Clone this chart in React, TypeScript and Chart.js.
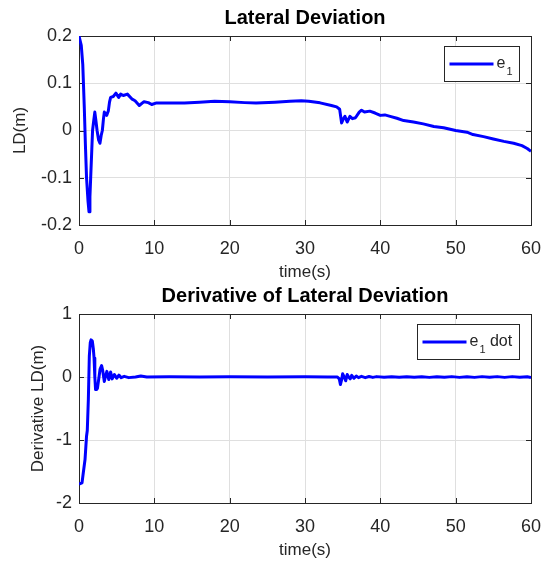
import React, { useEffect, useRef } from 'react';
import { Chart, registerables } from 'chart.js';

Chart.register(...registerables);

const FONT = '"Liberation Sans", Arial, Helvetica, sans-serif';
const INK = '#262626';
const GRID = '#dfdfdf';
const LINE = '#0000ff';

// ---- shared x axis ----
const xTicks = [0, 10, 20, 30, 40, 50, 60];
const xLabel = 'time(s)';

// ---- top panel ----
const topTitle = 'Lateral Deviation';
const topYLabel = 'LD(m)';
const topLegend = 'e_1';
const topYTicks = [-0.2, -0.1, 0, 0.1, 0.2];
const topTime = [
  0, 0.1, 0.3, 0.5, 0.7, 0.85, 1.0, 1.2, 1.33, 1.45, 1.55, 1.7, 1.8, 1.95, 2.1, 2.25, 2.4, 2.6, 2.78, 2.95,
  3.1, 3.25, 3.36, 3.5, 3.67, 3.9, 4.05, 4.2, 4.55, 4.9, 5.27, 5.53, 5.88, 6.42, 7.0, 7.44, 8.0, 8.63, 9.2, 9.65,
  10.2, 12, 14, 16, 18, 20, 22, 23.5, 26, 28, 29.5, 30.5, 32, 33.5, 34.2, 34.6, 34.86, 35.1, 35.3, 35.6,
  35.96, 36.3, 36.7, 37.2, 37.5, 37.9, 38.6, 39.3, 40, 40.6, 41.3, 42.2, 43.1, 44.4, 45.7, 47.1, 48.4, 50, 51.5, 52.3,
  53.7, 55, 56.4, 57.7, 58.8, 59.5, 60,
];
const topValue = [
  0.2, 0.2, 0.18, 0.14, 0.05, -0.03, -0.1, -0.15, -0.172, -0.14, -0.1, -0.04, 0, 0.02, 0.039, 0.02, 0, -0.02, -0.027, -0.01,
  0, 0.025, 0.039, 0.036, 0.032, 0.042, 0.06, 0.07, 0.072, 0.079, 0.07, 0.077, 0.074, 0.077, 0.067, 0.063, 0.053, 0.061, 0.059, 0.055,
  0.058, 0.058, 0.058, 0.06, 0.062, 0.061, 0.059, 0.058, 0.06, 0.062, 0.063, 0.062, 0.0585, 0.053, 0.05, 0.045, 0.016, 0.025, 0.03, 0.018,
  0.03, 0.025, 0.027, 0.039, 0.043, 0.039, 0.041, 0.037, 0.032, 0.033, 0.03, 0.026, 0.021, 0.018, 0.014, 0.0086, 0.0057, 0, -0.0036, -0.0086,
  -0.013, -0.018, -0.023, -0.027, -0.032, -0.038, -0.044,
];

// ---- bottom panel ----
const bottomTitle = 'Derivative of Lateral Deviation';
const bottomYLabel = 'Derivative LD(m)';
const bottomLegend = 'e_1 dot';
const bottomYTicks = [-2, -1, 0, 1];
const bottomTime = [
  0, 0.4, 0.57, 0.8, 1.0, 1.1, 1.24, 1.37, 1.5, 1.6, 1.77, 1.9, 2.0, 2.1, 2.2, 2.35, 2.45, 2.6, 2.79, 3.0,
  3.15, 3.36, 3.5, 3.7, 3.95, 4.2, 4.4, 4.7, 5.0, 5.3, 5.6, 6.0, 6.6, 7.5, 8.2, 9.0, 12, 16, 20, 25,
  30, 33, 34.3, 34.55, 34.7, 34.85, 35.0, 35.2, 35.4, 35.6, 35.8, 36.0, 36.2, 36.5, 36.8, 37.1, 37.5, 38.0, 38.5, 39.0,
  39.5, 40.5, 41.5, 42.5, 43.5, 44.5, 45.5, 46.5, 47.5, 48.5, 49.5, 50.5, 51.5, 52.5, 53.5, 54.5, 55.5, 56.5, 57.5, 58.5,
  59.5, 60,
];
const bottomValue = [
  -1.7, -1.68, -1.52, -1.31, -0.94, -0.85, -0.36, 0.33, 0.55, 0.59, 0.57, 0.45, 0.3, 0.0, -0.2, -0.2, -0.18, -0.05, 0.12, 0.18,
  0.1, -0.07, 0.0, 0.09, -0.04, 0.08, -0.03, 0.04, -0.02, 0.03, -0.01, 0.01, -0.01, 0.0, 0.015, 0.0, 0.003, 0.0, 0.002, 0.0,
  0.002, 0.0, 0.0, -0.03, -0.12, -0.05, 0.05, 0.0, -0.06, 0.04, 0.0, -0.03, 0.025, -0.02, 0.015, -0.01, 0.01, -0.01, 0.008, -0.006,
  0.006, -0.005, 0.005, -0.004, 0.004, -0.005, 0.004, -0.006, 0.005, -0.005, 0.006, -0.006, 0.005, -0.006, 0.006, -0.005, 0.006, -0.006, 0.006, -0.005,
  0.004, -0.01,
];

type PanelSpec = {
  top: number;
  height: number;
  padTop: number;
  xHeight: number;
  yTitlePad: number;
  xTitlePad: number;
  title: string;
  yLabel: string;
  legend: string;
  yTicks: number[];
  time: number[];
  values: number[];
};

const fmt = (v: number) => String(Math.round(v * 10) / 10);

const framePlugin = {
  id: 'matlabFrame',
  beforeDatasetsDraw(chart: any) {
    const { ctx, chartArea: a, scales } = chart;
    ctx.save();
    ctx.strokeStyle = INK;
    ctx.lineWidth = 1;
    const L = 5;
    ctx.beginPath();
    for (const t of scales.x.ticks) {
      const px = Math.round(scales.x.getPixelForValue(t.value)) + 0.5;
      ctx.moveTo(px, a.bottom);
      ctx.lineTo(px, a.bottom - L);
      ctx.moveTo(px, a.top);
      ctx.lineTo(px, a.top + L);
    }
    for (const t of scales.y.ticks) {
      const py = Math.round(scales.y.getPixelForValue(t.value)) + 0.5;
      ctx.moveTo(a.left, py);
      ctx.lineTo(a.left + L, py);
      ctx.moveTo(a.right, py);
      ctx.lineTo(a.right - L, py);
    }
    ctx.stroke();
    ctx.strokeRect(Math.round(a.left) + 0.5, Math.round(a.top) + 0.5, Math.round(a.right - a.left), Math.round(a.bottom - a.top));
    ctx.restore();
  },
  afterDatasetsDraw(chart: any, _args: any, opts: any) {
    const { ctx, chartArea: a } = chart;
    // title
    ctx.save();
    ctx.fillStyle = '#000';
    ctx.font = `bold 20px ${FONT}`;
    ctx.textAlign = 'center';
    ctx.textBaseline = 'alphabetic';
    ctx.fillText(opts.title, (a.left + a.right) / 2, a.top - 12);

    // legend
    const text: string = chart.data.datasets[0].label;
    const m = /^(.*?)_(\w)(.*)$/.exec(text);
    const main = m ? m[1] : text;
    const sub = m ? m[2] : '';
    const rest = m ? m[3] : '';
    ctx.font = `16px ${FONT}`;
    const wMain = ctx.measureText(main).width;
    const wRest = ctx.measureText(rest).width;
    ctx.font = `11px ${FONT}`;
    const wSub = ctx.measureText(sub).width;
    const padL = 5, lineLen = 44, gap = 3, padR = 7;
    const w = Math.round(padL + lineLen + gap + wMain + wSub + 1 + wRest + padR);
    const h = 35;
    const x0 = Math.round(a.right - 12 - w) + 0.5;
    const y0 = Math.round(a.top + 10) + 0.5;
    ctx.fillStyle = '#fff';
    ctx.fillRect(x0, y0, w, h);
    ctx.strokeStyle = INK;
    ctx.lineWidth = 1;
    ctx.strokeRect(x0, y0, w, h);
    const cy = y0 + h / 2;
    ctx.strokeStyle = LINE;
    ctx.lineWidth = 3;
    ctx.beginPath();
    ctx.moveTo(x0 + padL, cy);
    ctx.lineTo(x0 + padL + lineLen, cy);
    ctx.stroke();
    ctx.fillStyle = INK;
    ctx.textAlign = 'left';
    let tx = x0 + padL + lineLen + gap;
    ctx.font = `16px ${FONT}`;
    ctx.fillText(main, tx, cy + 3.5);
    tx += wMain;
    ctx.font = `11px ${FONT}`;
    ctx.fillText(sub, tx + 1, cy + 11);
    tx += wSub + 1;
    ctx.font = `16px ${FONT}`;
    ctx.fillText(rest, tx, cy + 3.5);
    ctx.restore();
  },
};

function buildConfig(p: PanelSpec): any {
  return {
    type: 'line',
    data: {
      datasets: [
        {
          label: p.legend,
          data: p.time.map((t, i) => ({ x: t, y: p.values[i] })),
          borderColor: LINE,
          borderWidth: 3,
          pointRadius: 0,
          tension: 0,
          fill: false,
          borderJoinStyle: 'round',
        },
      ],
    },
    options: {
      animation: false,
      responsive: true,
      maintainAspectRatio: false,
      layout: { padding: { top: p.padTop, left: 0, right: 16, bottom: 0 } },
      plugins: {
        legend: { display: false },
        title: { display: false },
        tooltip: { enabled: false },
        matlabFrame: { title: p.title },
      },
      scales: {
        x: {
          type: 'linear',
          min: xTicks[0],
          max: xTicks[xTicks.length - 1],
          afterBuildTicks: (s: any) => {
            s.ticks = xTicks.map((v) => ({ value: v }));
          },
          afterFit: (s: any) => {
            s.height = p.xHeight;
            s.paddingLeft = 0;
            s.paddingRight = 0;
          },
          grid: { color: GRID, drawTicks: false, tickLength: 0 },
          border: { display: false },
          ticks: {
            color: INK,
            font: { family: FONT, size: 18 },
            padding: 13,
            maxRotation: 0,
            autoSkip: false,
            callback: (v: number) => String(v),
          },
          title: {
            display: true,
            text: xLabel,
            color: INK,
            font: { family: FONT, size: 17, lineHeight: 1.1 },
            padding: { top: 0, bottom: p.xTitlePad },
          },
        },
        y: {
          type: 'linear',
          min: p.yTicks[0],
          max: p.yTicks[p.yTicks.length - 1],
          afterBuildTicks: (s: any) => {
            s.ticks = p.yTicks.map((v) => ({ value: v }));
          },
          afterFit: (s: any) => {
            s.width = 79;
            s.paddingTop = 0;
            s.paddingBottom = 0;
          },
          grid: { color: GRID, drawTicks: false, tickLength: 0 },
          border: { display: false },
          ticks: {
            color: INK,
            font: { family: FONT, size: 18 },
            padding: 7,
            autoSkip: false,
            callback: (v: number) => fmt(v),
          },
          title: {
            display: true,
            text: p.yLabel,
            color: INK,
            font: { family: FONT, size: 17, lineHeight: 1.2 },
            padding: { top: p.yTitlePad, bottom: 0 },
          },
        },
      },
    },
    plugins: [framePlugin],
  };
}

function Panel({ spec }: { spec: PanelSpec }) {
  const ref = useRef<HTMLCanvasElement>(null);
  useEffect(() => {
    const chart = new Chart(ref.current as HTMLCanvasElement, buildConfig(spec));
    return () => chart.destroy();
  }, []);
  return (
    <div style={{ position: 'absolute', left: 0, top: spec.top, width: 547, height: spec.height }}>
      <canvas ref={ref} />
    </div>
  );
}

const topSpec: PanelSpec = {
  top: 0,
  height: 282,
  padTop: 36,
  xHeight: 57,
  yTitlePad: 10,
  xTitlePad: 0,
  title: topTitle,
  yLabel: topYLabel,
  legend: topLegend,
  yTicks: topYTicks,
  time: topTime,
  values: topValue,
};

const bottomSpec: PanelSpec = {
  top: 282,
  height: 279,
  padTop: 32,
  xHeight: 58,
  yTitlePad: 28,
  xTitlePad: 1,
  title: bottomTitle,
  yLabel: bottomYLabel,
  legend: bottomLegend,
  yTicks: bottomYTicks,
  time: bottomTime,
  values: bottomValue,
};

export default function App() {
  return (
    <div style={{ position: 'absolute', left: 0, top: 0, width: 547, height: 561, background: '#fff' }}>
      <Panel spec={topSpec} />
      <Panel spec={bottomSpec} />
    </div>
  );
}
